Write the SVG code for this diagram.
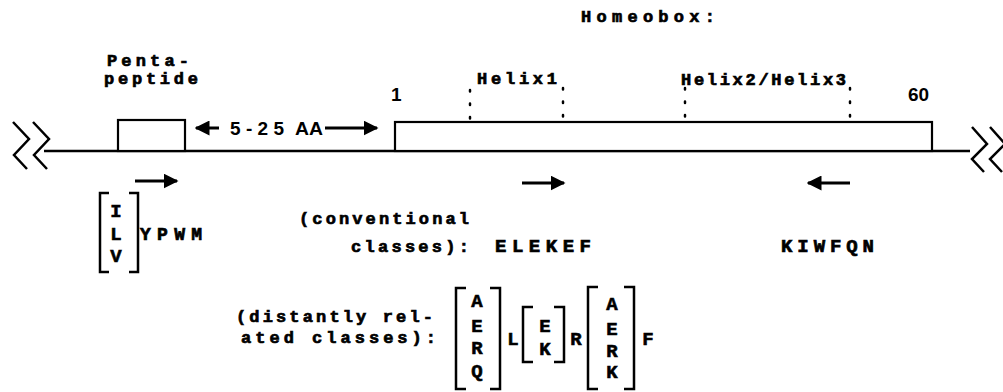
<svg xmlns="http://www.w3.org/2000/svg" width="1003" height="392" viewBox="0 0 1003 392">
<style>
.m{font-family:"Liberation Mono","Courier New",monospace;font-weight:bold;font-size:17px;fill:#000;stroke:#000;stroke-width:0.7}
.s{font-family:"Liberation Sans",Arial,sans-serif;font-weight:bold;font-size:19px;fill:#000}
.b{font-family:"Liberation Mono","Courier New",monospace;font-weight:bold;font-size:19px;fill:#000;stroke:#000;stroke-width:0.6;text-anchor:middle}
.ln{stroke:#000;stroke-width:2.5;fill:none}
.bx{stroke:#000;stroke-width:2.2;fill:#fff}
.dot{stroke:#000;stroke-width:2.5;stroke-dasharray:1.5 12;stroke-linecap:round;fill:none}
.br{stroke:#000;stroke-width:2.5;fill:none}
.sh{stroke:#000;stroke-width:3;fill:none}
</style>
<defs>
<marker id="ah" viewBox="0 0 10 10" refX="9" refY="5" markerWidth="5" markerHeight="5" orient="auto" markerUnits="strokeWidth">
<path d="M0,0 L10,5 L0,10 z" fill="#000"/>
</marker>
</defs>
<g id="connectors">
<line class="ln" x1="44" y1="151" x2="970" y2="151"/>
<polyline class="ln" points="13,122 29,139 14,155 27,169"/>
<polyline class="ln" points="33,122 49,139 34,155 47,169"/>
<polyline class="ln" points="972,127 987,144 972,159 984,172"/>
<polyline class="ln" points="990,127 1005,144 990,159 1002,172"/>
<line class="sh" x1="219" y1="128" x2="196" y2="128" marker-end="url(#ah)"/>
<line class="sh" x1="325" y1="128" x2="377" y2="128" marker-end="url(#ah)"/>
<line class="sh" x1="135" y1="181" x2="177" y2="181" marker-end="url(#ah)"/>
<line class="sh" x1="522" y1="183" x2="564" y2="183" marker-end="url(#ah)"/>
<line class="sh" x1="850" y1="183" x2="808" y2="183" marker-end="url(#ah)"/>
<line class="dot" x1="470" y1="90" x2="470" y2="120"/>
<line class="dot" x1="563" y1="88" x2="563" y2="118"/>
<line class="dot" x1="685" y1="88" x2="685" y2="118"/>
<line class="dot" x1="850" y1="88" x2="850" y2="118"/>
</g>
<g id="pentapeptide">
<rect class="bx" x="118" y="120" width="67" height="31"/>
<text class="m" x="107" y="66" textLength="82">Penta-</text>
<text class="m" x="104" y="84" textLength="94">peptide</text>
</g>
<g id="spacer">
<text class="s" x="230" y="135" textLength="54">5-25</text>
<text class="s" x="295" y="135" textLength="28" lengthAdjust="spacingAndGlyphs">AA</text>
</g>
<g id="homeobox">
<rect class="bx" x="395" y="122" width="537" height="29"/>
<text class="m" x="581" y="22" textLength="134">Homeobox:</text>
<text class="s" x="391" y="101">1</text>
<text class="s" x="908" y="101">60</text>
<text class="m" x="477" y="84" textLength="80">Helix1</text>
<text class="m" x="681" y="85" textLength="165">Helix2/Helix3</text>
</g>
<g id="penta-motif">
<path class="br" d="M109,193 H100 V272 H109"/>
<path class="br" d="M129,193 H138 V272 H129"/>
<text class="b" x="116" y="217">I</text>
<text class="b" x="116" y="240">L</text>
<text class="b" x="116" y="262">V</text>
<text class="m" x="140" y="240" textLength="62" style="font-size:18px">YPWM</text>
</g>
<g id="conventional">
<text class="m" x="299" y="224" textLength="170">(conventional</text>
<text class="m" x="351" y="252" textLength="118">classes):</text>
<text class="m" x="495" y="252" textLength="96" style="font-size:19px">ELEKEF</text>
<text class="m" x="781" y="252" textLength="93" style="font-size:19px">KIWFQN</text>
</g>
<g id="distant">
<text class="m" x="236" y="322" textLength="197">(distantly rel-</text>
<text class="m" x="241" y="343" textLength="195">ated classes):</text>
<path class="br" d="M466,288 H456 V389 H466"/>
<path class="br" d="M490,288 H500 V389 H490"/>
<text class="b" x="477" y="307">A</text>
<text class="b" x="477" y="332">E</text>
<text class="b" x="477" y="354">R</text>
<text class="b" x="477" y="377">Q</text>
<text class="b" x="513" y="345">L</text>
<path class="br" d="M533,307 H523 V362 H533"/>
<path class="br" d="M554,307 H564 V362 H554"/>
<text class="b" x="545" y="332">E</text>
<text class="b" x="545" y="355">K</text>
<text class="b" x="576" y="345">R</text>
<path class="br" d="M598,287 H588 V389 H598"/>
<path class="br" d="M624,287 H634 V389 H624"/>
<text class="b" x="612" y="310">A</text>
<text class="b" x="612" y="335">E</text>
<text class="b" x="612" y="357">R</text>
<text class="b" x="612" y="378">K</text>
<text class="b" x="648" y="345">F</text>
</g>
</svg>
